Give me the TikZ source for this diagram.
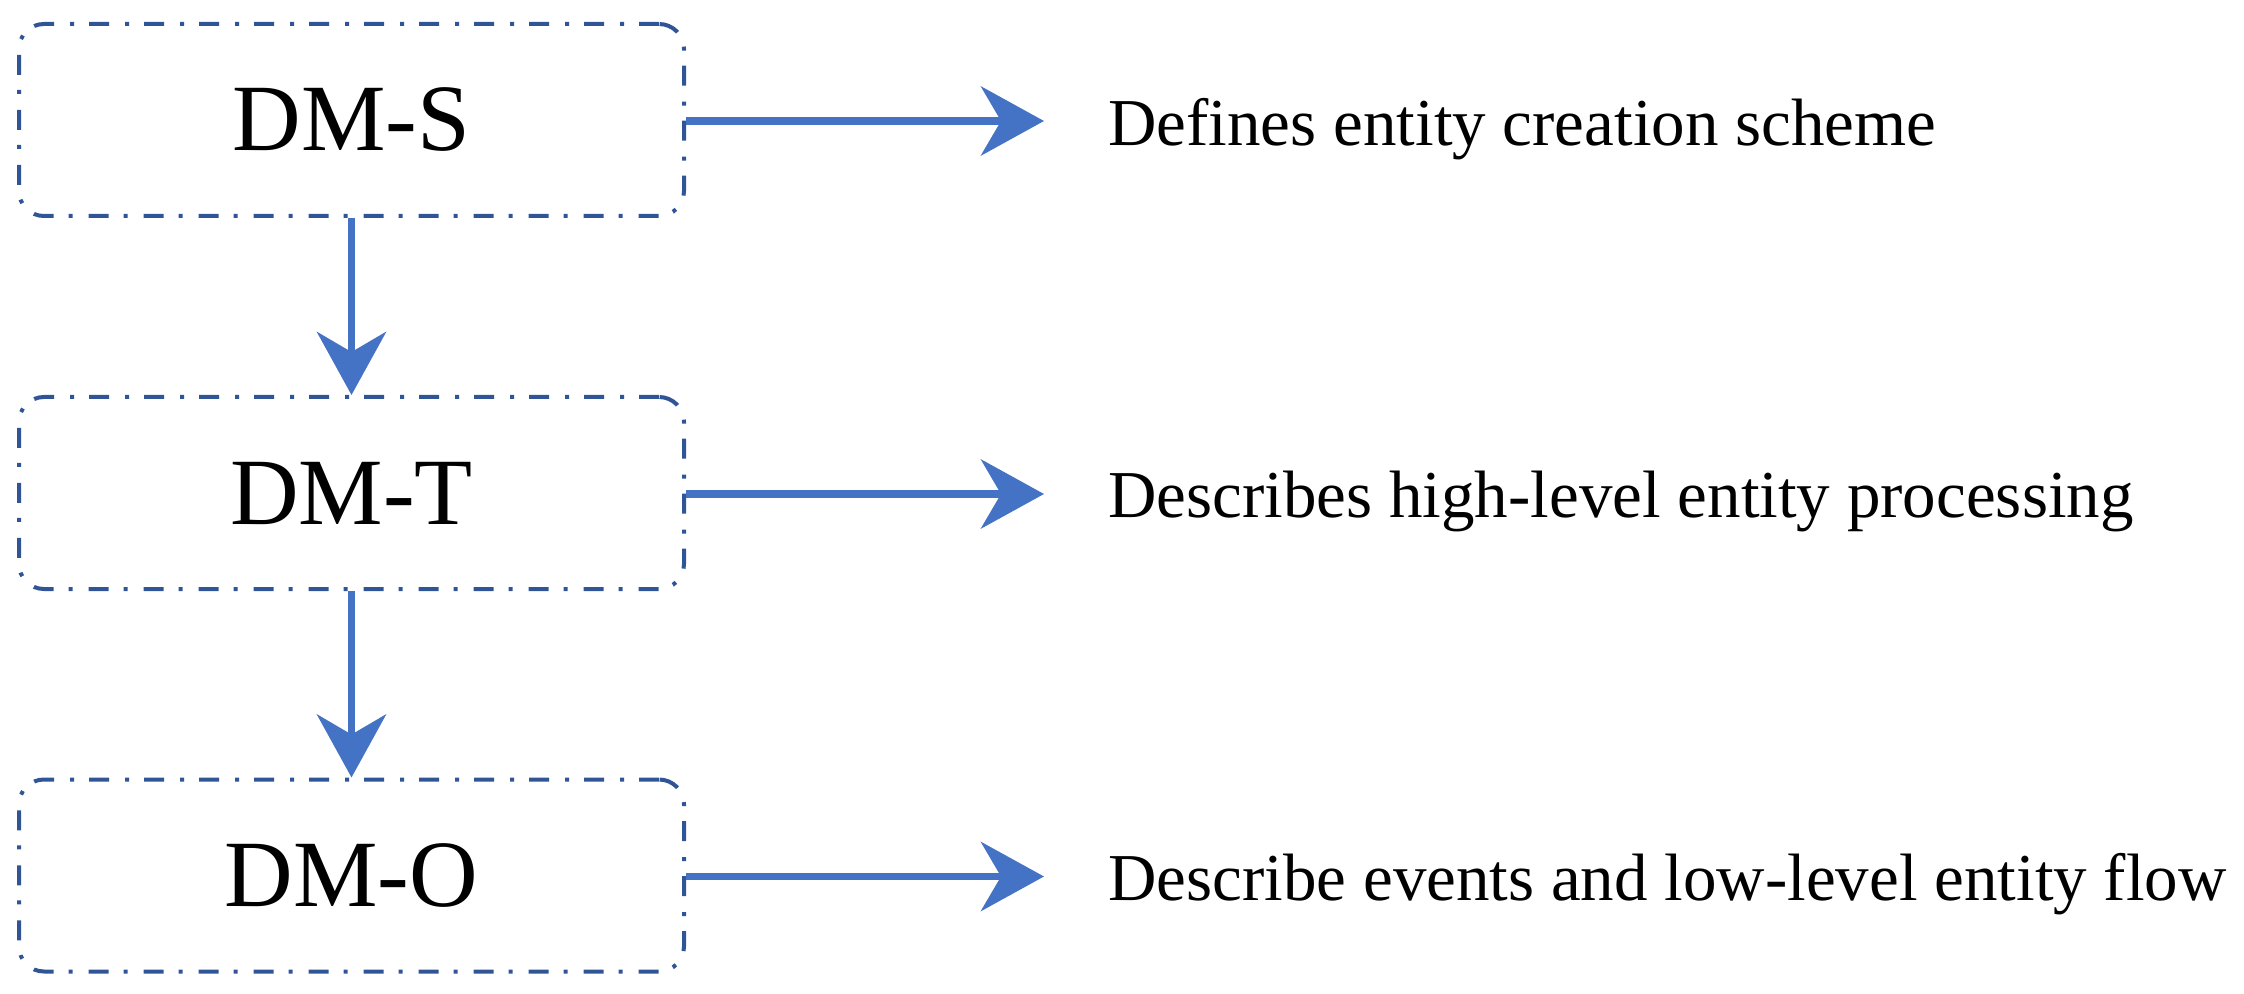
\documentclass[tikz,border=0pt]{standalone}
\usepackage{fontspec}
\setmainfont{Liberation Serif}
\usetikzlibrary{arrows.meta}
\definecolor{boxblue}{HTML}{2F5597}
\definecolor{arrowblue}{HTML}{4472C4}
\begin{document}
\begin{tikzpicture}[x=0.5pt,y=-0.5pt,
  dmbox/.style={draw=boxblue, line width=2pt, rounded corners=12.5pt,
    dash pattern=on 10pt off 7.5pt on 2pt off 8pt,
    minimum width=332.5pt, minimum height=96pt, inner sep=0pt,
    font=\fontsize{47.5pt}{57pt}\selectfont},
  flow/.style={draw=arrowblue, line width=3.8pt,
    -{Stealth[length=31.5pt,width=34.5pt,inset=10pt]}},
  desc/.style={anchor=base west, inner sep=0pt,
    font=\fontsize{33.5pt}{40pt}\selectfont}]
\useasboundingbox (0,0) rectangle (2244,994);
\node[dmbox] (s) at (351.5,120) {\raisebox{-2pt}{DM-S}};
\node[dmbox] (t) at (351.5,493) {\raisebox{-2pt}{DM-T}};
\node[dmbox] (o) at (351.5,875.5) {\raisebox{-2pt}{DM-O}};
\node[desc] (ds) at (1108,146) {Defines entity creation scheme};
\node[desc] (dt) at (1108,517) {Describes high-level entity processing};
\node[desc] (do) at (1108,900) {Describe events and low-level entity flow};
\coordinate (es) at (1044,121);
\coordinate (et) at (1044,494);
\coordinate (eo) at (1044,876.5);
\draw[flow] (s.south) -- (t.north);
\draw[flow] (t.south) -- (o.north);
\draw[flow] (s.east |- es) -- (es);
\draw[flow] (t.east |- et) -- (et);
\draw[flow] (o.east |- eo) -- (eo);
\end{tikzpicture}
\end{document}
